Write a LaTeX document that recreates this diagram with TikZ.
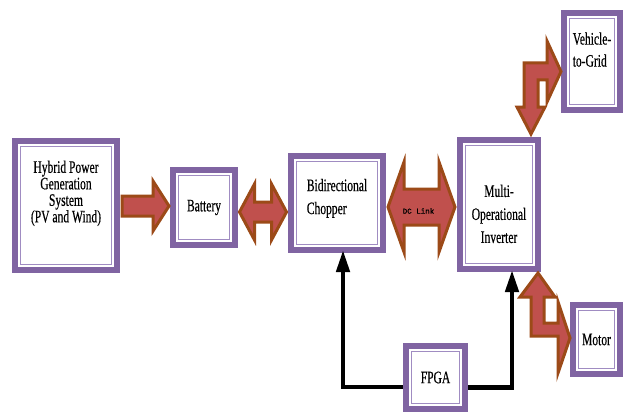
\documentclass[tikz,border=0pt]{standalone}
\usepackage{fontspec}
\setmainfont{Liberation Serif}[FakeStretch=0.66,FakeBold=0.4]
\newfontfamily\dcfont{Liberation Mono}[FakeBold=1.2]
\usetikzlibrary{arrows.meta,calc}
\definecolor{boxpurple}{HTML}{8064A2}
\definecolor{innerpurple}{HTML}{A08CC2}
\definecolor{arrowfill}{HTML}{C0504D}
\definecolor{arrowline}{HTML}{9C4A18}
\tikzset{
  box/.style={draw=boxpurple, line width=6pt, fill=white, inner sep=0pt, align=center,
    font=\fontsize{17.5}{16.5}\selectfont},
  innerline/.style={draw=innerpurple, line width=1.5pt},
  barrow/.style={draw=arrowline, fill=arrowfill, line width=3pt, line join=miter},
  ctrl/.style={draw=black, line width=4.5pt, -{Triangle[width=13pt,length=22pt]}},
}
\newcommand\rblock[5]{% start, end(tip), shaft half, head half, head length
  \draw[barrow] ($(#1)+(0,-#3)$) -- ($(#2)+(-#5,-#3)$) -- ($(#2)+(-#5,-#4)$) -- (#2)
    -- ($(#2)+(-#5,#4)$) -- ($(#2)+(-#5,#3)$) -- ($(#1)+(0,#3)$) -- cycle;}
\newcommand\dblock[5]{% left tip, right tip, shaft half, head half, head length
  \draw[barrow] (#1) -- ($(#1)+(#5,-#4)$) -- ($(#1)+(#5,-#3)$) -- ($(#2)+(-#5,-#3)$)
    -- ($(#2)+(-#5,-#4)$) -- (#2) -- ($(#2)+(-#5,#4)$) -- ($(#2)+(-#5,#3)$)
    -- ($(#1)+(#5,#3)$) -- ($(#1)+(#5,#4)$) -- cycle;}
\begin{document}
\begin{tikzpicture}[x=1pt,y=-1pt]
\useasboundingbox[fill=white] (0,0) rectangle (624,412);

% boxes
\node[box, minimum width=102, minimum height=129] (hyb) at (66,205.5)
  {Hybrid Power\\Generation\\System\\(PV and Wind)\rule[-28pt]{0pt}{0pt}};
\node[box, minimum width=62, minimum height=75] (bat) at (204,207.5) {Battery};
\node[box, align=left, minimum width=92, minimum height=94, font=\fontsize{17.5}{23}\selectfont] (chop) at (337,203)
  {Bidirectional\\Chopper\rule[-13pt]{0pt}{0pt}};
\node[box, minimum width=78, minimum height=129, font=\fontsize{17.5}{23}\selectfont] (inv) at (499,204.5)
  {\rule{0pt}{31pt}Multi-\\Operational\\Inverter};
\node[box, align=left, minimum width=56, minimum height=97, font=\fontsize{17.5}{22}\selectfont] (v2g) at (592,61.5)
  {Vehicle-\\to-Grid\rule[-24pt]{0pt}{0pt}};
\node[box, minimum width=47, minimum height=69] (motor) at (596.5,339.5) {Motor};
\node[box, minimum width=59, minimum height=63] (fpga) at (435.5,377.5) {FPGA};

\foreach \n in {hyb,bat,chop,inv,v2g,motor,fpga}
  \draw[innerline] ([shift={(8.5,8.5)}]\n.north west) rectangle ([shift={(-8.5,-8.5)}]\n.south east);

% block arrows
\coordinate (a1s) at ([shift={(2,0.5)}]hyb.east);
\coordinate (a1e) at ([shift={(-1,0)}]bat.west |- a1s);
\rblock{a1s}{a1e}{10}{25}{16}

\coordinate (a2s) at ([shift={(1.5,4.5)}]bat.east);
\coordinate (a2e) at ([shift={(-1.5,0)}]chop.west |- a2s);
\dblock{a2s}{a2e}{10}{28}{15}

\coordinate (a3s) at ([shift={(2,4)}]chop.east);
\coordinate (a3e) at ([shift={(-2,0)}]inv.west |- a3s);
\dblock{a3s}{a3e}{18}{45}{16}
\node[font=\dcfont\fontsize{7.5}{8}\selectfont, inner sep=0pt] (dc) at ($(a3s)!0.5!(a3e)+(-3,4)$) {DC Link};

% bent arrow to Vehicle-to-Grid
\coordinate (d0) at ([shift={(32,-3)}]inv.north);
\draw[barrow] (d0) -- ++(14,-27) -- ++(-7,0) -- ++(0,-27) -- ++(9,0) -- ++(0,22)
  -- ++(14,-30.5) -- ++(-14,-30.5) -- ++(0,22) -- ++(-23,0) -- ++(0,44) -- ++(-7,0) -- cycle;

% bent arrow to Motor
\coordinate (e0) at ([shift={(39,1)}]inv.south);
\draw[barrow] (e0) -- ++(17,24) -- ++(-11,0) -- ++(0,26) -- ++(14,0) -- ++(0,-21)
  -- ++(12,36) -- ++(-12,35) -- ++(0,-37) -- ++(-27,0) -- ++(0,-39) -- ++(-11,0) -- cycle;

% control connectors
\draw[ctrl] ([shift={(0,9.5)}]fpga.west) -| ([shift={(6,-3)}]chop.south);
\draw[ctrl] ([shift={(0,10)}]fpga.east) -| ([shift={(13,-2)}]inv.south);
\end{tikzpicture}
\end{document}
